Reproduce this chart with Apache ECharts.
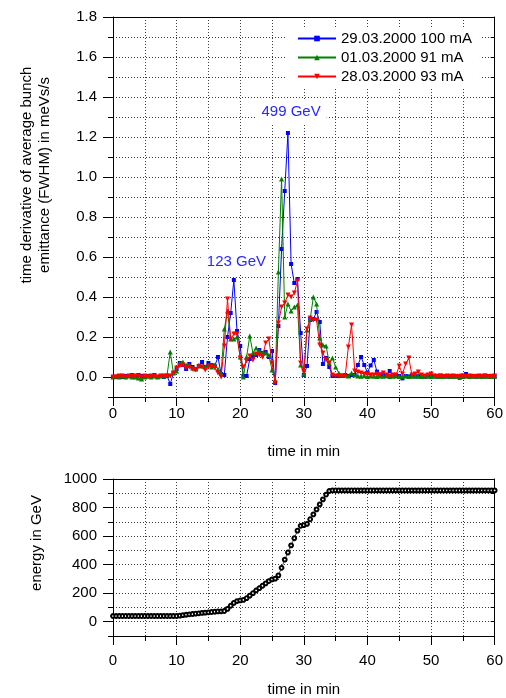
<!DOCTYPE html>
<html>
<head>
<meta charset="utf-8">
<script src="https://cdn.jsdelivr.net/npm/echarts@6/dist/echarts.min.js"></script>
<style>
  html, body { margin: 0; padding: 0; background: #fff; }
  #chart { width: 506px; height: 698px; }
</style>
</head>
<body>
<div id="chart"></div>
<script>
// Sampling times of the ramp measurements (minutes)
const minutes = [
  0, 0.5, 1, 1.5, 2, 2.5, 3, 3.5, 4, 4.5,
  5, 5.5, 6, 6.5, 7, 7.5, 8, 8.5, 9, 9.5,
  10, 10.5, 11, 11.5, 12, 12.5, 13, 13.5, 14, 14.5,
  15, 15.5, 16, 16.5, 17, 17.5, 18, 18.5, 19, 19.5,
  20, 20.5, 21, 21.5, 22, 22.5, 23, 23.5, 24, 24.5,
  25, 25.5, 26, 26.5, 27, 27.5, 28, 28.5, 29, 29.5,
  30, 30.5, 31, 31.5, 32, 32.5, 33, 33.5, 34, 34.5,
  35, 35.5, 36, 36.5, 37, 37.5, 38, 38.5, 39, 39.5,
  40, 40.5, 41, 41.5, 42, 42.5, 43, 43.5, 44, 44.5,
  45, 45.5, 46, 46.5, 47, 47.5, 48, 48.5, 49, 49.5,
  50, 50.5, 51, 51.5, 52, 52.5, 53, 53.5, 54, 54.5,
  55, 55.5, 56, 56.5, 57, 57.5, 58, 58.5, 59, 59.5,
  60
];

// Time derivative of the bunch emittance, meVs/s
const run0329 = [
  0, 0, 0.005, 0, 0.005, 0.005, 0.01, 0.005, 0.01, 0.005,
  0, 0.005, 0.005, 0.01, 0, 0.005, 0, 0.005, -0.035, 0.02,
  0.04, 0.07, 0.06, 0.04, 0.065, 0.05, 0.04, 0.055, 0.075, 0.05,
  0.07, 0.06, 0.055, 0.1, 0.015, 0.01, 0.2, 0.32, 0.485, 0.23,
  0.155, 0.005, 0.005, 0.09, 0.1, 0.11, 0.135, 0.12, 0.125, 0.1,
  0.13, -0.03, 0.255, 0.64, 0.93, 1.22, 0.565, 0.47, 0.49, 0.22,
  0.01, 0.055, 0.285, 0.29, 0.325, 0.275, 0.065, 0.095, 0.05, 0.005,
  0.005, 0.005, 0.005, 0.01, 0.005, 0.01, 0.01, 0.06, 0.1, 0.06,
  0.022, 0.058, 0.085, 0.027, 0.013, 0.01, 0.01, 0.03, 0.005, 0.005,
  0.005, -0.007, 0.005, 0.003, 0.005, 0.002, 0.004, 0.003, 0.001, 0.004,
  0.005, 0.003, 0.002, 0.004, 0.003, 0.002, 0.004, 0.003, 0.002, -0.004,
  0, 0.015, 0.003, 0.004, 0.002, 0.003, 0.004, 0.002, 0.003, 0.003,
  0.002
];
const run0301 = [
  0, 0.005, 0, 0.005, 0, 0.005, 0, 0, -0.005, -0.01,
  0, 0.005, 0, 0.005, 0, 0.005, 0.005, 0.01, 0.125, 0.02,
  0.03, 0.07, 0.075, 0.06, 0.06, 0.045, 0.04, 0.06, 0.055, 0.05,
  0.06, 0.05, 0.06, 0.04, 0.02, 0.24, 0.33, 0.19, 0.19, 0.2,
  0.1, 0, 0.1, 0.205, 0.12, 0.145, 0.13, 0.12, 0.12, 0.11,
  0.035, -0.015, 0.525, 0.99, 0.3, 0.365, 0.33, 0.35, 0.36, 0.06,
  0.015, 0.235, 0.29, 0.4, 0.365, 0.195, 0.16, 0.155, 0.07, 0.095,
  0.05, 0.02, 0.01, 0.01, 0.005, 0.02, 0.01, 0.005, 0.004, 0.006,
  0.003, 0.005, 0.004, 0.003, 0.005, 0.004, 0.006, 0.003, 0.004, 0.005,
  0.003, 0.004, 0.005, 0.003, 0.004, 0.006, 0.004, 0.003, 0.005, 0.004,
  0.003, 0.005, 0.004, 0.003, 0.004, 0.005, 0.003, 0.004, 0.005, 0.003,
  0.004, 0.005, 0.003, 0.004, 0.005, 0.004, 0.003, 0.005, 0.004, 0.003,
  0.004
];
const run0328 = [
  0, 0, 0.005, 0.005, 0, 0.005, 0.005, 0.005, 0.005, 0,
  0.005, 0, 0.005, 0.005, 0, 0.005, 0.005, 0.005, 0.005, 0.02,
  0.045, 0.055, 0.06, 0.045, 0.05, 0.04, 0.035, 0.05, 0.05, 0.035,
  0.05, 0.055, 0.045, 0.02, 0, 0.155, 0.39, 0.19, 0.215, 0.215,
  0.095, 0.05, 0.08, 0.105, 0.085, 0.115, 0.11, 0.1, 0.17, 0.19,
  0.07, -0.03, 0.27, 0.35, 0.37, 0.41, 0.4, 0.42, 0.48, 0.07,
  0.025, 0.24, 0.295, 0.285, 0.285, 0.16, 0.12, 0.085, 0.07, 0.01,
  0.005, 0.005, 0.005, 0.005, 0.15, 0.26, 0.03, 0.025, 0.02, 0.015,
  0.015, 0.01, 0.01, 0.015, 0.01, 0.02, 0.01, 0.005, 0.01, 0.01,
  0.055, 0.015, 0.065, 0.095, 0.01, 0.015, 0.025, 0.01, 0.005, 0.01,
  0.015, 0.005, 0.004, 0.006, 0.003, 0.005, 0.004, 0.005, 0.003, 0.004,
  0.006, 0.003, 0.005, 0.004, 0.003, 0.005, 0.004, 0.006, 0.003, 0.004,
  0.005
];

// Beam energy during the ramp, GeV
const energy = [
  40, 40, 40, 40, 40, 40, 40, 40, 40, 40,
  40, 40, 40, 40, 40, 40, 40, 40, 40, 40,
  40, 43, 46, 49, 52, 54, 57, 59, 62, 64,
  66, 68, 70, 72, 73, 75, 90, 112, 132, 145,
  149, 153, 165, 183, 200, 219, 235, 252, 269, 285,
  297, 302, 325, 378, 435, 485, 535, 585, 638, 672,
  677, 685, 718, 752, 787, 822, 857, 891, 916, 920,
  920, 920, 920, 920, 920, 920, 920, 920, 920, 920,
  920, 920, 920, 920, 920, 920, 920, 920, 920, 920,
  920, 920, 920, 920, 920, 920, 920, 920, 920, 920,
  920, 920, 920, 920, 920, 920, 920, 920, 920, 920,
  920, 920, 920, 920, 920, 920, 920, 920, 920, 920,
  920
];

const runNames = ['29.03.2000 100 mA', '01.03.2000 91 mA', '28.03.2000 93 mA'];
const energyMarks = ['123 GeV', '499 GeV'];

// Tick positions
const timeTicks = [0, 10, 20, 30, 40, 50, 60];
const timeMinorTicks = [5, 15, 25, 35, 45, 55];
const rateTicks = [0, 0.2, 0.4, 0.6, 0.8, 1.0, 1.2, 1.4, 1.6, 1.8];
const rateMinorTicks = [-0.1, 0.1, 0.3, 0.5, 0.7, 0.9, 1.1, 1.3, 1.5, 1.7];
const energyTicks = [0, 200, 400, 600, 800, 1000];
const energyMinorTicks = [-100, 100, 300, 500, 700, 900];

const FONT = "'Liberation Sans', Arial, Helvetica, sans-serif";
const dotted = { color: '#3a3a3a', width: 1, type: [1, 2] };
const txt = { fontFamily: FONT, fontSize: 15, color: '#000' };

const pairs = vals => minutes.map((t, i) => [t, vals[i]]);

function timeAxes(gridIndex, labelMargin, nameGap) {
  return [
    {
      gridIndex, type: 'value', min: 0, max: 60, interval: 5, position: 'bottom',
      axisLine: { onZero: false, lineStyle: { color: '#000', width: 1 } },
      axisTick: { customValues: timeTicks, length: 9, lineStyle: { color: '#000' } },
      axisLabel: Object.assign({ customValues: timeTicks, margin: labelMargin }, txt),
      splitLine: { show: true, lineStyle: dotted },
      name: 'time in min', nameLocation: 'middle', nameGap,
      nameTextStyle: txt
    },
    {
      gridIndex, type: 'value', min: 0, max: 60, interval: 5, position: 'bottom',
      axisLine: { show: false, onZero: false },
      axisTick: { customValues: timeMinorTicks, length: 5, lineStyle: { color: '#000' } },
      axisLabel: { show: false },
      splitLine: { show: true, lineStyle: dotted }
    },
    {
      gridIndex, type: 'value', min: 0, max: 60, interval: 5, position: 'top',
      axisLine: { onZero: false, lineStyle: { color: '#000', width: 1 } },
      axisTick: { show: false }, axisLabel: { show: false }, splitLine: { show: false }
    }
  ];
}

function valueAxes(gridIndex, min, max, interval, major, minor, fmt) {
  return [
    {
      gridIndex, type: 'value', min, max, interval, position: 'left',
      axisLine: { onZero: false, lineStyle: { color: '#000', width: 1 } },
      axisTick: { customValues: major, length: 10, lineStyle: { color: '#000' } },
      axisLabel: Object.assign({ customValues: major, margin: 16, formatter: fmt }, txt),
      splitLine: { show: true, lineStyle: dotted }
    },
    {
      gridIndex, type: 'value', min, max, interval, position: 'left',
      axisLine: { show: false, onZero: false },
      axisTick: { customValues: minor, length: 5, lineStyle: { color: '#000' } },
      axisLabel: { show: false },
      splitLine: { show: true, lineStyle: dotted }
    },
    {
      gridIndex, type: 'value', min, max, interval, position: 'right',
      axisLine: { onZero: false, lineStyle: { color: '#000', width: 1 } },
      axisTick: { inside: true, length: 4, lineStyle: { color: '#000' } },
      axisLabel: { show: false }, splitLine: { show: false }
    }
  ];
}

const chart = echarts.init(document.getElementById('chart'), null, { renderer: 'canvas' });

const runColors = ['#0000ff', '#008000', '#ff0000'];
const runData = [run0329, run0301, run0328];
const runSymbols = [
  { symbol: 'rect', symbolSize: 4, symbolRotate: 0 },
  { symbol: 'triangle', symbolSize: 5, symbolRotate: 0 },
  { symbol: 'triangle', symbolSize: 5, symbolRotate: 180 }
];

const runSeries = runData.map((vals, k) => ({
  type: 'line',
  name: runNames[k],
  xAxisIndex: 0,
  yAxisIndex: 0,
  data: pairs(vals),
  symbol: runSymbols[k].symbol,
  symbolSize: runSymbols[k].symbolSize,
  symbolRotate: runSymbols[k].symbolRotate,
  showSymbol: true,
  itemStyle: { color: runColors[k] },
  lineStyle: { color: runColors[k], width: 1 },
  emphasis: { disabled: true },
  z: 3 + k
}));

// Energy labels at the two emittance bursts
runSeries[0].markPoint = {
  silent: true,
  symbol: 'rect',
  symbolSize: 1,
  itemStyle: { color: 'rgba(0,0,0,0)' },
  label: {
    show: true, position: 'inside', formatter: p => p.name,
    fontFamily: FONT, fontSize: 15, color: '#2828ff',
    backgroundColor: '#fff', padding: [4, 6]
  },
  data: [
    { name: energyMarks[0], coord: [19.4, 0.575] },
    { name: energyMarks[1], coord: [28.0, 1.327] }
  ]
};

const option = {
  animation: false,
  backgroundColor: '#fff',
  grid: [
    { left: 113, top: 17, width: 383, height: 380 },
    { left: 113, top: 479, width: 383, height: 158 }
  ],
  xAxis: timeAxes(0, 9, 47).concat(timeAxes(1, 17, 46)),
  yAxis: valueAxes(0, -0.1, 1.8, 0.1, rateTicks, rateMinorTicks, v => v.toFixed(1))
    .concat(valueAxes(1, -100, 1000, 100, energyTicks, energyMinorTicks, v => String(v))),
  legend: {
    data: runNames,
    orient: 'vertical',
    left: 287,
    top: 27,
    itemWidth: 38,
    itemHeight: 7,
    itemGap: 4,
    padding: [4, 8, 4, 10],
    backgroundColor: '#fff',
    textStyle: txt,
    selectedMode: false
  },
  graphic: [
    {
      type: 'text', x: 27, y: 175, rotation: Math.PI / 2,
      style: { text: 'time derivative of average bunch', fontFamily: FONT, fontSize: 15,
               fill: '#000', align: 'center', verticalAlign: 'middle' }
    },
    {
      type: 'text', x: 45, y: 175, rotation: Math.PI / 2,
      style: { text: 'emittance (FWHM) in meVs/s', fontFamily: FONT, fontSize: 15,
               fill: '#000', align: 'center', verticalAlign: 'middle' }
    },
    {
      type: 'text', x: 37, y: 543, rotation: Math.PI / 2,
      style: { text: 'energy in GeV', fontFamily: FONT, fontSize: 15,
               fill: '#000', align: 'center', verticalAlign: 'middle' }
    }
  ],
  series: runSeries.concat([{
    type: 'line',
    name: 'energy',
    xAxisIndex: 3,
    yAxisIndex: 3,
    data: pairs(energy),
    symbol: 'emptyCircle',
    symbolSize: 3.8,
    showSymbol: true,
    itemStyle: { color: '#000', borderColor: '#333', borderWidth: 0.6 },
    lineStyle: { color: '#222', width: 0.8 },
    emphasis: { disabled: true }
  }])
};

chart.setOption(option);
</script>
</body>
</html>
